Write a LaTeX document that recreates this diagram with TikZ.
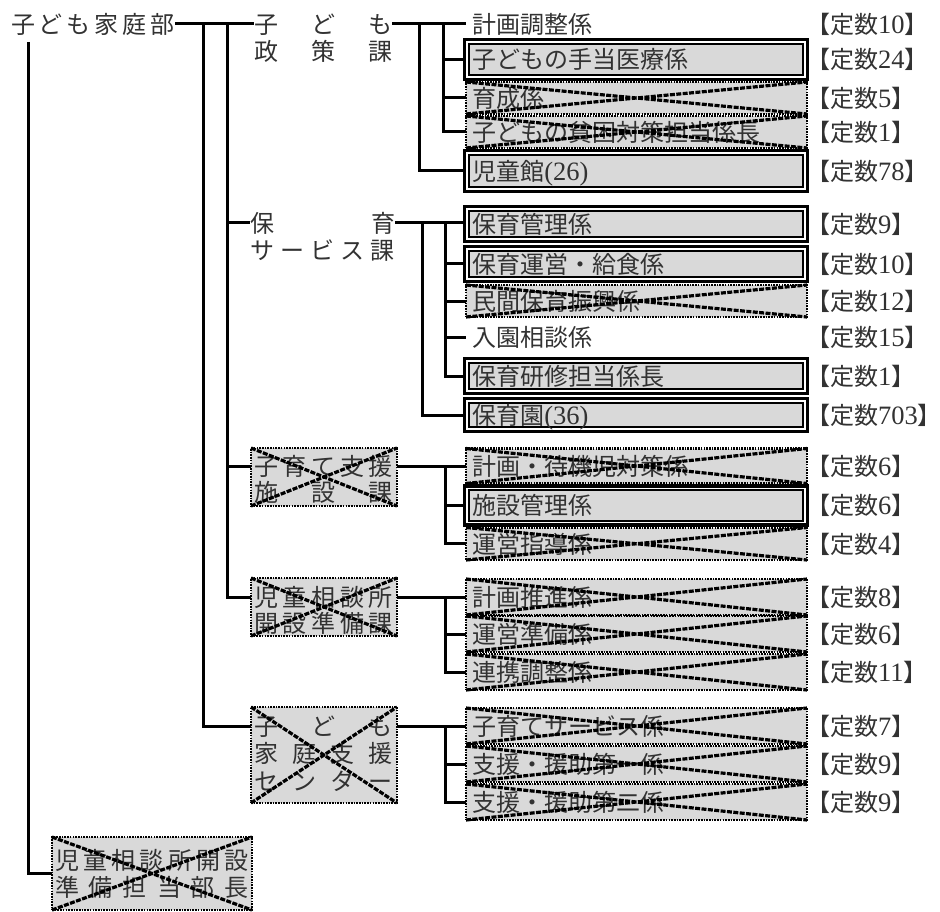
\documentclass[tikz,border=0pt]{standalone}
\usepackage{fontspec}
\setmainfont{Liberation Serif}
\newfontfamily\jp{Noto Sans CJK JP}
\usetikzlibrary{calc}
\pgfdeclarelayer{bg}
\pgfsetlayers{bg,main}
\definecolor{boxgray}{RGB}{217,217,217}
\definecolor{txt}{RGB}{50,50,50}
\newcommand\fs{\fontsize{24}{28}\selectfont\jp}
\newcommand\dg[1]{{\fontsize{26.5}{28}\selectfont\rmfamily #1}}
\newcommand\spr[2]{\makebox[#1][s]{#2}}
\begin{document}
\begin{tikzpicture}[x=1pt,y=-1pt,
  conn/.style={line width=3pt, line join=miter},
  txtnode/.style={inner sep=0pt, outer sep=0pt, font=\fs, text=txt, text height=20pt, text depth=1.5pt},
  ttlrow/.style={txtnode, anchor=west},
  rowplain/.style={txtnode, anchor=west, inner xsep=6pt, text width=329pt, align=left},
  rowx/.style={rowplain, draw=black, fill=boxgray, line width=2.5pt, dash pattern=on 1.6pt off 1.1pt},
  rowd/.style={txtnode, anchor=west, inner xsep=3.5pt, text width=327.5pt, align=left, fill=boxgray, draw=black, line width=1.6pt, preaction={draw=black,line width=12pt}, preaction={draw=white,line width=4.6pt}},
  xbox/.style={draw=black, fill=boxgray, line width=2.5pt, dash pattern=on 1.6pt off 1.1pt, inner sep=0pt, outer sep=0pt},
  xline/.style={line width=3.2pt, dash pattern=on 5pt off 1.4pt},
  lbl/.style={txtnode, anchor=west}
]
\useasboundingbox (0,0) rectangle (940,912);
\coordinate (lx) at (806,0);

% department
\node[ttlrow] (dept) at (11,24) {\spr{164pt}{子\hfill ど\hfill も\hfill 家\hfill 庭\hfill 部}};

% section 1
\node[ttlrow] (t1a) at (254,24) {\spr{138pt}{子\hfill ど\hfill も}};
\node[ttlrow] (t1b) at (254,51) {\spr{138pt}{政\hfill 策\hfill 課}};
\node[rowplain] (r11) at (466,24) {計画調整係};
\node[rowd, minimum height=31.5pt] (r12) at (468.75,59.5) {子どもの手当医療係};
\node[rowx, minimum height=32pt] (r13) at (466,98) {育成係};
\node[rowx, minimum height=32pt] (r14) at (466,132) {子どもの貧困対策担当係長};
\node[rowd, minimum height=32.5pt] (r15) at (468.75,171) {児童館\dg{(26)}};

% section 2
\node[ttlrow] (t2a) at (250,223) {\spr{145pt}{保\hfill 育}};
\node[ttlrow] (t2b) at (250,250) {\spr{145pt}{サ\hfill ー\hfill ビ\hfill ス\hfill 課}};
\node[rowd, minimum height=26.5pt] (r21) at (468.75,224) {保育管理係};
\node[rowd, minimum height=26.5pt] (r22) at (468.75,264) {保育運営・給食係};
\node[rowx, minimum height=32pt] (r23) at (466,301) {民間保育振興係};
\node[rowplain] (r24) at (466,337) {入園相談係};
\node[rowd, minimum height=26.5pt] (r25) at (468.75,376) {保育研修担当係長};
\node[rowd, minimum height=24.5pt] (r26) at (468.75,415) {保育園\dg{(36)}};

% section 3
\node[xbox, minimum width=146pt, minimum height=58pt] (t3) at (324,477) {};
\node[ttlrow] (t3a) at (254,466) {\spr{139pt}{子\hfill 育\hfill て\hfill 支\hfill 援}};
\node[ttlrow] (t3b) at (254,492) {\spr{139pt}{施\hfill 設\hfill 課}};
\node[rowx, minimum height=35pt] (r31) at (466,466) {計画・待機児対策係};
\node[rowd, minimum height=30.5pt] (r32) at (468.75,505.5) {施設管理係};
\node[rowx, minimum height=32.5pt] (r33) at (466,543.75) {運営指導係};

% section 4
\node[xbox, minimum width=146pt, minimum height=58pt] (t4) at (324,607) {};
\node[ttlrow] (t4a) at (254,597) {\spr{139pt}{児\hfill 童\hfill 相\hfill 談\hfill 所}};
\node[ttlrow] (t4b) at (254,623) {\spr{139pt}{開\hfill 設\hfill 準\hfill 備\hfill 課}};
\node[rowx, minimum height=36pt] (r41) at (466,597) {計画推進係};
\node[rowx, minimum height=36pt] (r42) at (466,634) {運営準備係};
\node[rowx, minimum height=36pt] (r43) at (466,672) {連携調整係};

% section 5
\node[xbox, minimum width=146pt, minimum height=96pt] (t5) at (324,755) {};
\node[ttlrow] (t5a) at (254,726) {\spr{139pt}{子\hfill ど\hfill も}};
\node[ttlrow] (t5b) at (254,753) {\spr{139pt}{家\hfill 庭\hfill 支\hfill 援}};
\node[ttlrow] (t5c) at (254,781) {\spr{139pt}{セ\hfill ン\hfill タ\hfill ー}};
\node[rowx, minimum height=36pt] (r51) at (466,726) {子育てサービス係};
\node[rowx, minimum height=36pt] (r52) at (466,764) {支援・援助第一係};
\node[rowx, minimum height=36pt] (r53) at (466,802) {支援・援助第二係};

% bottom
\node[xbox, minimum width=200pt, minimum height=73pt] (bot) at (152,873.5) {};
\node[ttlrow] (bota) at (55,860) {\spr{194pt}{児\hfill 童\hfill 相\hfill 談\hfill 所\hfill 開\hfill 設}};
\node[ttlrow] (botb) at (55,887) {\spr{194pt}{準\hfill 備\hfill 担\hfill 当\hfill 部\hfill 長}};

% labels
\node[lbl] (L11) at (r11 -| lx) {【定数\dg{10}】};
\node[lbl] (L12) at (r12 -| lx) {【定数\dg{24}】};
\node[lbl] (L13) at (r13 -| lx) {【定数\dg{5}】};
\node[lbl] (L14) at (r14 -| lx) {【定数\dg{1}】};
\node[lbl] (L15) at (r15 -| lx) {【定数\dg{78}】};
\node[lbl] (L21) at (r21 -| lx) {【定数\dg{9}】};
\node[lbl] (L22) at (r22 -| lx) {【定数\dg{10}】};
\node[lbl] (L23) at (r23 -| lx) {【定数\dg{12}】};
\node[lbl] (L24) at (r24 -| lx) {【定数\dg{15}】};
\node[lbl] (L25) at (r25 -| lx) {【定数\dg{1}】};
\node[lbl] (L26) at (r26 -| lx) {【定数\dg{703}】};
\node[lbl] (L31) at (r31 -| lx) {【定数\dg{6}】};
\node[lbl] (L32) at (r32 -| lx) {【定数\dg{6}】};
\node[lbl] (L33) at (r33 -| lx) {【定数\dg{4}】};
\node[lbl] (L41) at (r41 -| lx) {【定数\dg{8}】};
\node[lbl] (L42) at (r42 -| lx) {【定数\dg{6}】};
\node[lbl] (L43) at (r43 -| lx) {【定数\dg{11}】};
\node[lbl] (L51) at (r51 -| lx) {【定数\dg{7}】};
\node[lbl] (L52) at (r52 -| lx) {【定数\dg{9}】};
\node[lbl] (L53) at (r53 -| lx) {【定数\dg{9}】};

% crossing lines
\foreach \n in {r13,r14,r23,r31,r33,r41,r42,r43,r51,r52,r53,t3,t4,t5,bot}
  \draw[xline] (\n.north west) -- (\n.south east) (\n.south west) -- (\n.north east);

% connectors
\begin{pgfonlayer}{bg}
\coordinate (jA) at (203,24);
\coordinate (jB) at (227,24);
\coordinate (jC) at (28,42);
\draw[conn] (dept.east) -- (t1a.west);
\draw[conn] (jA) |- (t5.west |- t5a);
\draw[conn] (jB) |- (t4.west |- t4a);
\draw[conn] (jB |- t2a) -- (t2a.west);
\draw[conn] (jB |- t3a) -- (t3.west |- t3a);
\draw[conn] (jC) |- (bot.west);
% sec 1
\coordinate (k1a) at (419,24);
\coordinate (k1b) at (443,24);
\draw[conn] (t1a.east) -- (r11.west);
\draw[conn] (k1a) |- (r15.west);
\draw[conn] (k1b) |- (r14.west);
\draw[conn] (k1b |- r12) -- (r12.west);
\draw[conn] (k1b |- r13) -- (r13.west);
% sec 2
\coordinate (k2a) at (422,223);
\coordinate (k2b) at (445,223);
\draw[conn] (t2a.east) -- (t2a.east -| r21.west);
\draw[conn] (k2a) |- (r26.west);
\draw[conn] (k2b) |- (r25.west);
\draw[conn] (k2b |- r22) -- (r22.west);
\draw[conn] (k2b |- r23) -- (r23.west);
\draw[conn] (k2b |- r24) -- (r24.west);
% sec 3
\coordinate (k3) at (445,466);
\draw[conn] (t3.east |- t3a) -- (r31.west);
\draw[conn] (k3) |- (r33.west);
\draw[conn] (k3 |- r32) -- (r32.west);
% sec 4
\coordinate (k4) at (445,597);
\draw[conn] (t4.east |- t4a) -- (r41.west);
\draw[conn] (k4) |- (r43.west);
\draw[conn] (k4 |- r42) -- (r42.west);
% sec 5
\coordinate (k5) at (445,726);
\draw[conn] (t5.east |- t5a) -- (r51.west);
\draw[conn] (k5) |- (r53.west);
\draw[conn] (k5 |- r52) -- (r52.west);
\end{pgfonlayer}
\end{tikzpicture}
\end{document}
